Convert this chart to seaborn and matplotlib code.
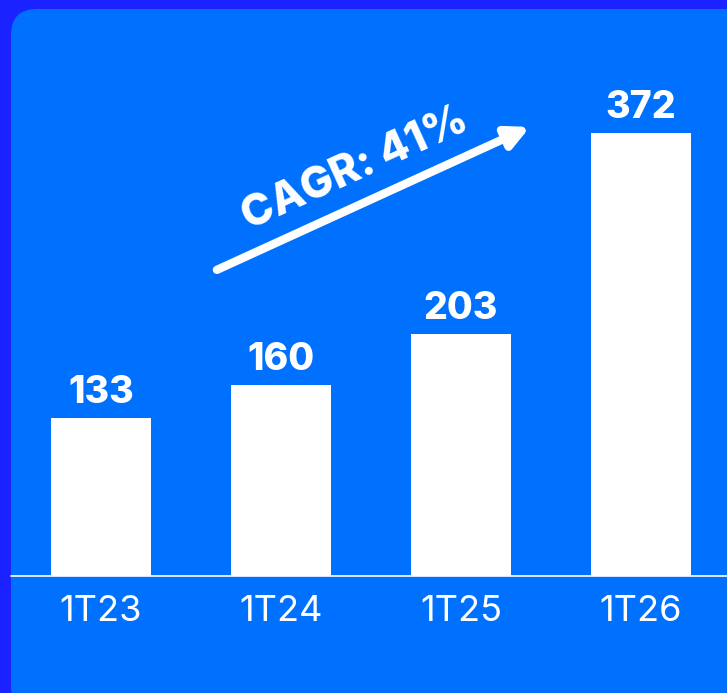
import matplotlib.pyplot as plt
import seaborn as sns
from matplotlib.patches import FancyBboxPatch

# chart data
quarters = ['1T23', '1T24', '1T25', '1T26']
values = [133, 160, 203, 372]
cagr_label = 'CAGR: 41%'

OUTER = '#1a22ff'
INNER = '#0071ff'

sns.set_theme(style='white')
plt.rcParams['font.family'] = ['Inter', 'DejaVu Sans']

fig = plt.figure(figsize=(7.27, 6.93), dpi=100, facecolor=OUTER)

# rounded panel behind the chart
panel = FancyBboxPatch((11, -20), 740, 704, boxstyle='round,pad=0,rounding_size=26',
                       transform=None, facecolor=INNER, edgecolor='none', zorder=-10)
fig.patches.append(panel)

ax = fig.add_axes([11 / 727, 117 / 693, 716 / 727, 567 / 693])
ax.set_facecolor('none')
ax.set_zorder(1)

sns.barplot(x=quarters, y=values, color='white', width=0.555, saturation=1, ax=ax)
for p in ax.patches:
    p.set_edgecolor('none')

ax.set_xlim(-0.5, 3.478)
ax.set_ylim(0, 476)

for i, v in enumerate(values):
    ax.annotate(str(v), (i, v), xytext=(0, 5), textcoords='offset points',
                ha='center', va='bottom', color='white', fontsize=27, fontweight='heavy')

# baseline and ticks
ax.axhline(0, color='white', lw=1.2, clip_on=False)
for s in ax.spines.values():
    s.set_visible(False)
ax.set_yticks([])
ax.tick_params(axis='x', length=0, pad=14, labelsize=26, colors='white')
for t in ax.get_xticklabels():
    t.set_fontweight('normal')

# CAGR arrow
ax.annotate('', xy=(2.383, 377), xytext=(0.644, 257),
            arrowprops=dict(arrowstyle='-|>,head_length=1.1,head_width=0.55',
                            color='white', lw=6, shrinkA=0, shrinkB=0))
ax.text(1.41, 342, cagr_label, rotation=24.5, rotation_mode='anchor',
        ha='center', va='center', color='white', fontsize=31, fontweight='heavy')

fig.savefig('out.png', dpi=100, facecolor=OUTER)
